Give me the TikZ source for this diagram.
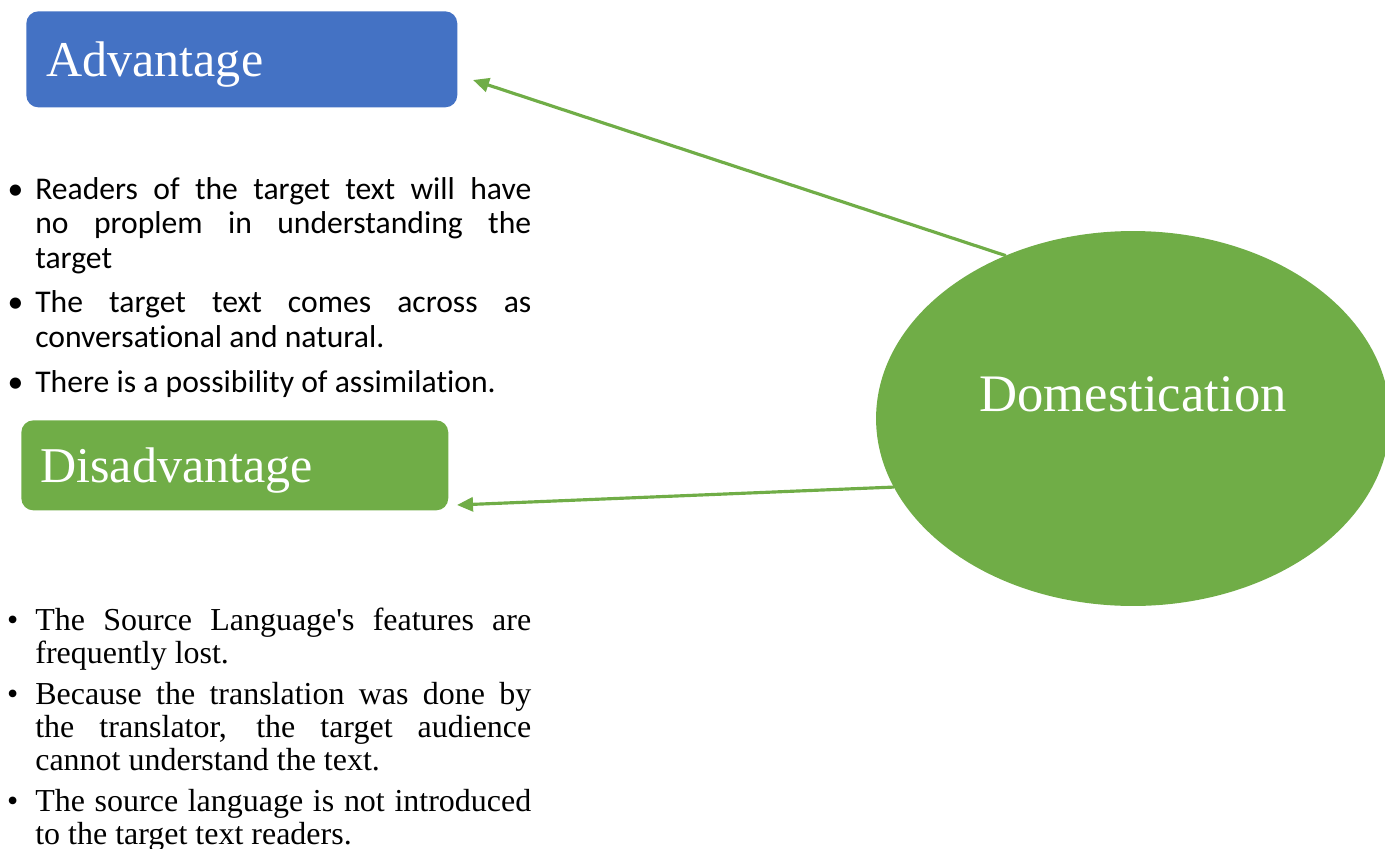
\documentclass[tikz,border=0pt]{standalone}
\usepackage{fontspec}
\setmainfont{Liberation Serif}
\newfontfamily\calfont[Ligatures={NoCommon}]{Carlito}
\usetikzlibrary{shapes}
\usetikzlibrary{positioning}
\usetikzlibrary{arrows.meta}
\definecolor{advblue}{HTML}{4472C4}
\definecolor{domgreen}{HTML}{70AD47}
\newcommand{\calitem}{\par\noindent\llap{\textbullet\hspace{0.24cm}}}
\newcommand{\seritem}{\par\noindent\llap{\textbullet\hspace{0.34cm}}}
\tikzset{
    headbox/.style = {rectangle, rounded corners=0.24cm, text=white, align=left, anchor=north west, text depth=0pt, font=\fontsize{28.5}{34}\selectfont},
    advbox/.style = {headbox, fill=advblue, inner xsep=0.4cm, minimum width=8.62cm, minimum height=1.92cm, text width=7.82cm},
    disadvbox/.style = {headbox, fill=domgreen, inner xsep=0.38cm, minimum width=8.54cm, minimum height=1.8cm, text width=7.78cm},
    domnode/.style = {ellipse, fill=domgreen, inner sep=0pt, outer sep=0pt, minimum width=10.28cm, minimum height=7.5cm},
    domtext/.style = {text=white, font=\fontsize{30}{36}\selectfont},
    calist/.style = {anchor=north west, inner sep=0pt, text width=9.92cm, align=justify, font=\calfont\fontsize{18}{19.6}\selectfont},
    serlist/.style = {anchor=north west, inner sep=0pt, text width=9.92cm, align=justify, font=\fontsize{18.2}{18.6}\selectfont},
    link/.style = {-{Triangle[length=0.32cm,width=0.28cm]}, line width=1.8pt, domgreen}
}
\begin{document}
\begin{tikzpicture}[x=0.02cm, y=-0.02cm]
\useasboundingbox (0,0) rectangle (1385,848);
%
\node[advbox] at (26,11) (adv) {Advantage};
\node[disadvbox] at (21,420) (disadv) {Disadvantage};
\node[domnode] at (1133,418.5) (dom) {};
\node[domtext] at ([yshift=0.49cm]dom.center) (domlbl) {Domestication};
%
\node[calist] at (35,154) (advlist) {\setlength{\parskip}{5.9pt}%
\calitem Readers of the target text will have\linebreak no proplem in understanding the\linebreak target
\calitem The target text comes across as\linebreak conversational and natural.
\calitem There is a possibility of assimilation.\par};
\node[serlist] at (35,589) (disadvlist) {\setlength{\parskip}{5pt}%
\seritem The Source Language\textquotesingle s features are\linebreak frequently lost.
\seritem Because the translation was done by\linebreak the translator, the target audience\linebreak cannot understand the text.
\seritem The source language is not introduced\linebreak to the target text readers.\par};
%
\coordinate (advtip) at (473,80);
\coordinate (disadvtip) at (457,505);
\draw[link] (dom.128.5) -- (advtip);
\draw[link] (dom.196.8) -- (disadvtip);
\end{tikzpicture}
\end{document}
